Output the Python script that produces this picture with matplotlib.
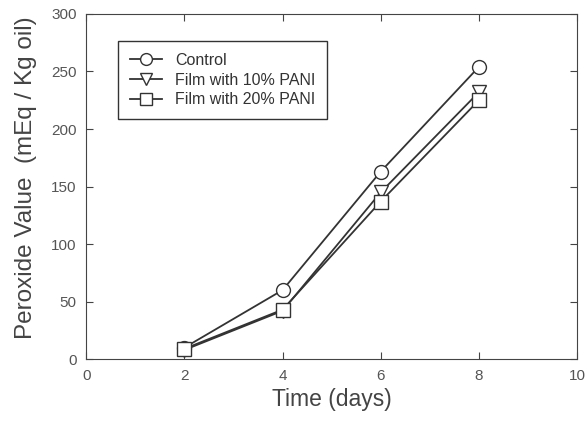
import numpy as np
import matplotlib.pyplot as plt

plt.rcParams['font.family'] = ['Liberation Sans', 'DejaVu Sans']

days = [2, 4, 6, 8]
control = [10, 60, 163, 254]
pani_10 = [8, 42, 145, 232]
pani_20 = [9, 43, 137, 225]

fig = plt.figure(figsize=(5.87, 4.23), dpi=100)
ax = fig.add_axes([0.147, 0.151, 0.836, 0.816])

style = dict(color='#333333', lw=1.3, mfc='white', mec='#333333', mew=1.0, ms=10)
ax.plot(days, control, marker='o', label='Control', **style)
ax.plot(days, pani_10, marker='v', label='Film with 10% PANI', **style)
ax.plot(days, pani_20, marker='s', label='Film with 20% PANI', **style)

ax.set_xlim(0, 10)
ax.set_ylim(0, 300)
ax.set_xticks(np.arange(0, 11, 2))
ax.set_yticks(np.arange(0, 301, 50))
ax.tick_params(direction='in', top=True, right=True, length=5, color='#444444',
               labelcolor='#555555', labelsize=11, pad=7)
for s in ax.spines.values():
    s.set_color('#444444')

ax.set_xlabel('Time (days)', fontsize=16.5, color='#444444', labelpad=4)
ax.set_ylabel('Peroxide Value  (mEq / Kg oil)', fontsize=17.5, color='#444444')
ax.yaxis.set_label_coords(-0.1, 0.527)

leg = ax.legend(loc='upper left', bbox_to_anchor=(0.049, 0.945), fontsize=11.5,
                fancybox=False, edgecolor='#333333', framealpha=1,
                handlelength=2.0, borderpad=0.75, labelspacing=0.3, markerscale=0.85)
leg.get_frame().set_linewidth(1.0)
for t in leg.get_texts():
    t.set_color('#333333')

fig.savefig('out.png', dpi=100)
